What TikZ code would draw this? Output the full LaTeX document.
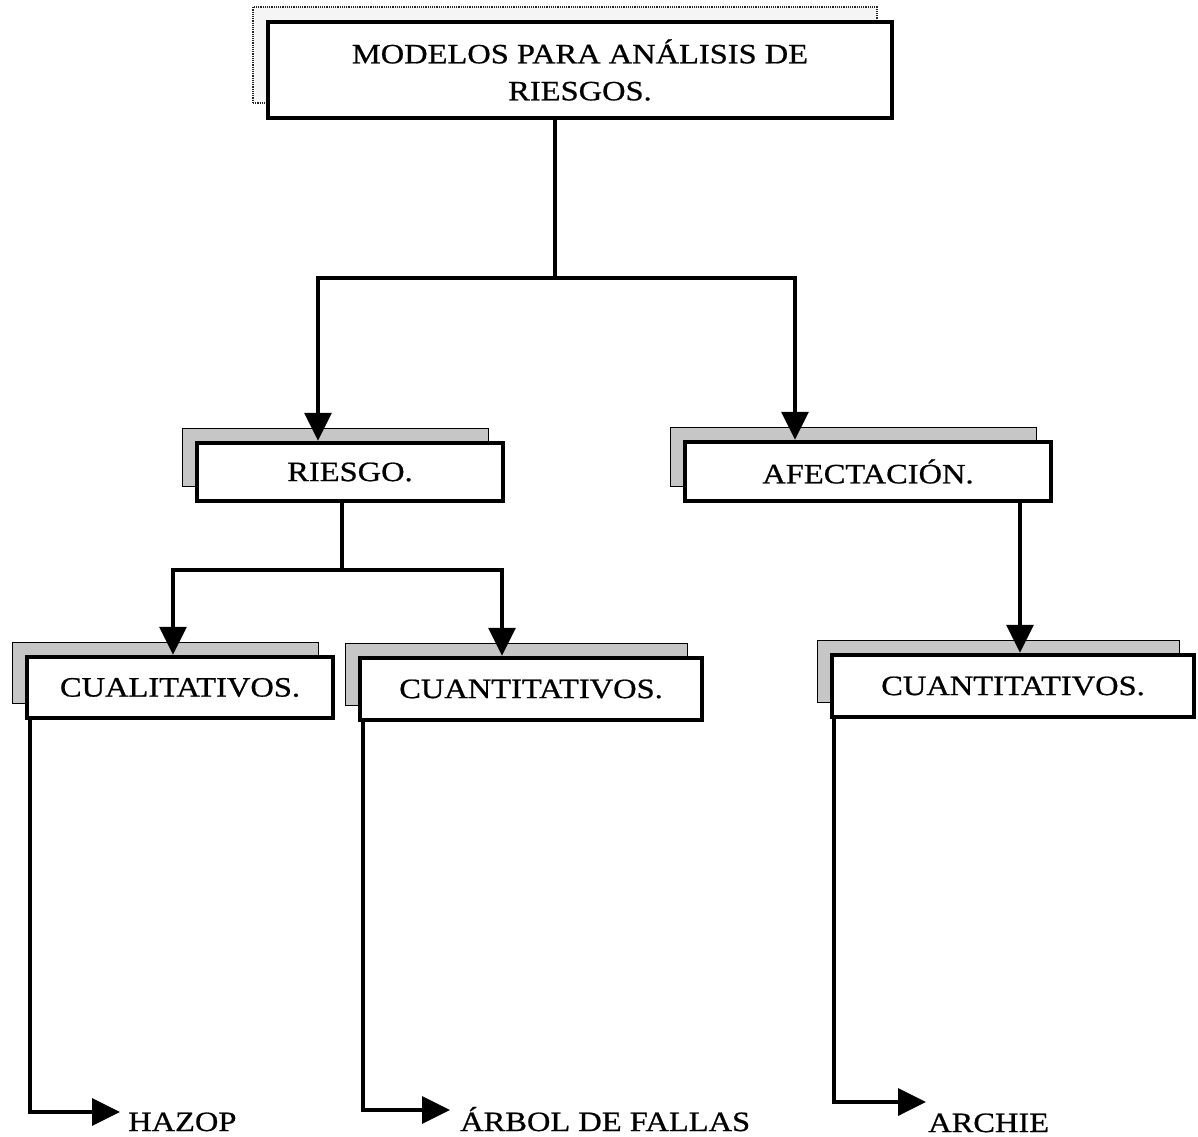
\documentclass[tikz,border=0pt]{standalone}
\usepackage{fontspec}
\setmainfont{Liberation Serif}[FakeStretch=1.16,FakeBold=0.7]
\usetikzlibrary{arrows.meta,shadows}
\begin{document}
\begin{tikzpicture}[x={(1pt,0)},y={(0,-1pt)},
  font=\fontsize{28}{37}\selectfont,
  mainbox/.style={draw=black, line width=4.5pt, fill=white, inner sep=0pt, align=center,
    copy shadow={shadow xshift=-15pt, shadow yshift=15pt, fill=gray!45, draw=black, line width=1pt}},
  topbox/.style={draw=black, line width=4.5pt, fill=white, inner sep=0pt, align=center,
    copy shadow={shadow xshift=-15pt, shadow yshift=15pt, fill=gray!8, draw=black!85, line width=1.2pt, densely dotted}},
  leaf/.style={inner sep=0pt, anchor=base west, text height=18pt, text depth=0pt},
  conn/.style={line width=3.5pt},
  arr/.style={line width=3.5pt, -{Triangle[length=28pt,width=27pt]}}]
\useasboundingbox (0,0) rectangle (1198,1136);

\node[topbox, minimum width=624pt, minimum height=96pt] (top) at (580,70)
  {MODELOS PARA ANÁLISIS DE\\RIESGOS.};
\node[mainbox, minimum width=306pt, minimum height=58pt] (riesgo) at (350,472) {RIESGO.};
\node[mainbox, minimum width=366pt, minimum height=59pt] (afect) at (868,471.5) {AFECTACIÓN.};
\node[mainbox, minimum width=306pt, minimum height=61pt] (cual) at (180,687.5) {CUALITATIVOS.};
\node[mainbox, minimum width=342pt, minimum height=62pt] (cuant1) at (531,689) {CUANTITATIVOS.};
\node[mainbox, minimum width=362pt, minimum height=62pt] (cuant2) at (1013,686) {CUANTITATIVOS.};

\node[leaf] (hazop) at (128,1131) {HAZOP};
\node[leaf] (arbol) at (460,1131) {ÁRBOL DE FALLAS};
\node[leaf] (archie) at (928,1132) {ARCHIE};

\coordinate (j1) at (555,278);
\coordinate (j2) at (342,570);

\draw[conn] (top.south -| j1) -- (j1);
\draw[arr] (j1) -| ([xshift=-32pt]riesgo.north);
\draw[arr] (j1) -| ([xshift=-73pt]afect.north);

\draw[conn] (riesgo.south -| j2) -- (j2);
\draw[arr] (j2) -| ([xshift=-7pt]cual.north);
\draw[arr] (j2) -| ([xshift=-29pt]cuant1.north);

\draw[arr] ([xshift=152pt]afect.south) -- ([xshift=152pt]afect.south |- cuant2.north);

\draw[arr] ([xshift=5pt]cual.south west) |- ([shift={(-8pt,10pt)}]hazop.west);
\draw[arr] ([xshift=5pt]cuant1.south west) |- ([shift={(-10pt,12pt)}]arbol.west);
\draw[arr] ([xshift=4pt]cuant2.south west) |- ([shift={(-2pt,21pt)}]archie.west);
\end{tikzpicture}
\end{document}
